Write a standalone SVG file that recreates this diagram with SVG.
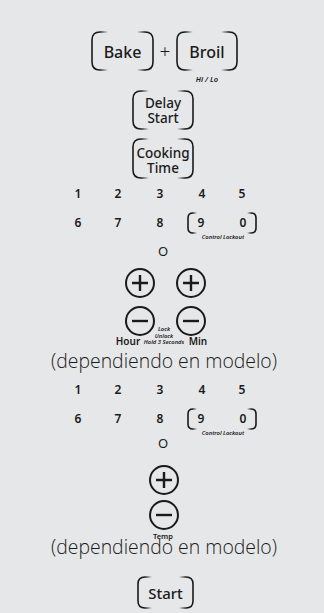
<svg xmlns="http://www.w3.org/2000/svg" width="324" height="613" viewBox="0 0 324 613">
<defs>
<linearGradient id="fadeL" x1="0" y1="0" x2="1" y2="0"><stop offset="0" stop-color="#1a1a1a"/><stop offset="0.5" stop-color="#1a1a1a"/><stop offset="1" stop-color="#1a1a1a" stop-opacity="0"/></linearGradient>
<linearGradient id="fadeR" x1="0" y1="0" x2="1" y2="0"><stop offset="0" stop-color="#1a1a1a" stop-opacity="0"/><stop offset="0.5" stop-color="#1a1a1a"/><stop offset="1" stop-color="#1a1a1a"/></linearGradient>
<g id="plusbtn"><circle r="14" class="ring"/><path d="M-8,0H8M0,-8V8" class="sign"/></g>
<g id="minusbtn"><circle r="14" class="ring"/><path d="M-8,0H8" class="sign"/></g>
</defs>
<style>
.bl{fill:none;stroke:url(#fadeL);stroke-width:1.6}
.br{fill:none;stroke:url(#fadeR);stroke-width:1.6}
.ring{fill:none;stroke:#1a1a1a;stroke-width:2}
.sign{fill:none;stroke:#1a1a1a;stroke-width:2.4}
text{font-family:"Noto Sans","Open Sans",sans-serif;fill:#1a1a1a;text-anchor:middle}
.btn{font-size:16px;font-weight:500}
.btn2{font-size:13.5px;font-weight:500}
.num{font-size:12px;font-weight:600}
.tiny{font-size:5.8px;font-style:italic;font-weight:600}
.small{font-size:7.5px;font-style:italic;font-weight:600}
.lbl{font-size:10px;font-weight:600}
.dep{font-family:"Open Sans","Noto Sans",sans-serif;font-size:20px;font-weight:300}
.o{font-size:13px;font-weight:400}
</style>
<rect width="324" height="613" fill="#e6e7e8"/>

<g id="bake">
<path class="bl" d="M108,32H100Q92,32 92,40V62Q92,70 100,70H108"/>
<path class="br" d="M137,32H145Q153,32 153,40V62Q153,70 145,70H137"/>
<text class="btn" x="122.5" y="58">Bake</text>
</g>
<g id="plus-sign"><text x="165" y="58" style="font-size:19px;font-weight:300">+</text></g>
<g id="broil">
<path class="bl" d="M193,32H185Q177,32 177,40V62Q177,70 185,70H193"/>
<path class="br" d="M221,32H229Q237,32 237,40V62Q237,70 229,70H221"/>
<text class="btn" x="207" y="58">Broil</text>
<text class="small" x="207" y="82">Hi / Lo</text>
</g>
<g id="delay-start">
<path class="bl" d="M149,91H141Q133,91 133,99V121Q133,129 141,129H149"/>
<path class="br" d="M177,91H185Q193,91 193,99V121Q193,129 185,129H177"/>
<text class="btn2"><tspan x="163" y="108">Delay</tspan><tspan x="163" y="122.5">Start</tspan></text>
</g>
<g id="cooking-time">
<path class="bl" d="M149,139H141Q133,139 133,147V170Q133,178 141,178H149"/>
<path class="br" d="M177,139H185Q193,139 193,147V170Q193,178 185,178H177"/>
<text class="btn2"><tspan x="163" y="158">Cooking</tspan><tspan x="163" y="172.5">Time</tspan></text>
</g>

<g id="keypad1">
<text class="num" x="78" y="198">1</text>
<text class="num" x="118" y="198">2</text>
<text class="num" x="160" y="198">3</text>
<text class="num" x="202" y="198">4</text>
<text class="num" x="242" y="198">5</text>
<text class="num" x="78" y="227">6</text>
<text class="num" x="118" y="227">7</text>
<text class="num" x="160" y="227">8</text>
<text class="num" x="201" y="227">9</text>
<text class="num" x="243" y="227">0</text>
<path class="bl" d="M197,213H193Q188,213 188,218V228Q188,233 193,233H197"/>
<path class="br" d="M247,213H251Q256,213 256,218V228Q256,233 251,233H247"/>
<text class="tiny" x="223" y="239">Control Lockout</text>
<text class="o" x="163" y="256">O</text>
</g>

<g id="hour-min">
<use href="#plusbtn" x="140" y="283"/>
<use href="#plusbtn" x="191" y="283"/>
<use href="#minusbtn" x="140" y="321"/>
<use href="#minusbtn" x="191" y="321"/>
<text class="lbl" x="128" y="345">Hour</text>
<text class="lbl" x="198" y="345">Min</text>
<text class="tiny"><tspan x="164" y="331">Lock</tspan><tspan x="164" y="337.5">Unlock</tspan><tspan x="164" y="344">Hold 3 Seconds</tspan></text>
</g>
<g id="note1"><text class="dep" x="164" y="368" textLength="226" lengthAdjust="spacingAndGlyphs">(dependiendo en modelo)</text></g>

<g id="keypad2">
<text class="num" x="78" y="394">1</text>
<text class="num" x="118" y="394">2</text>
<text class="num" x="160" y="394">3</text>
<text class="num" x="202" y="394">4</text>
<text class="num" x="242" y="394">5</text>
<text class="num" x="78" y="423">6</text>
<text class="num" x="118" y="423">7</text>
<text class="num" x="160" y="423">8</text>
<text class="num" x="201" y="423">9</text>
<text class="num" x="243" y="423">0</text>
<path class="bl" d="M197,409H193Q188,409 188,414V424Q188,429 193,429H197"/>
<path class="br" d="M247,409H251Q256,409 256,414V424Q256,429 251,429H247"/>
<text class="tiny" x="223" y="435">Control Lockout</text>
<text class="o" x="163" y="448">O</text>
</g>

<g id="temp">
<use href="#plusbtn" x="164" y="480"/>
<use href="#minusbtn" x="164" y="515"/>
<text class="lbl" x="163" y="539" style="font-size:7.5px">Temp</text>
</g>
<g id="note2"><text class="dep" x="164" y="554" textLength="226" lengthAdjust="spacingAndGlyphs">(dependiendo en modelo)</text></g>

<g id="start">
<path class="bl" d="M152,577H145Q138,577 138,584V601Q138,608 145,608H152"/>
<path class="br" d="M179,577H186Q193,577 193,584V601Q193,608 186,608H179"/>
<text class="btn" x="165.5" y="599" style="font-size:15px">Start</text>
</g>
</svg>
